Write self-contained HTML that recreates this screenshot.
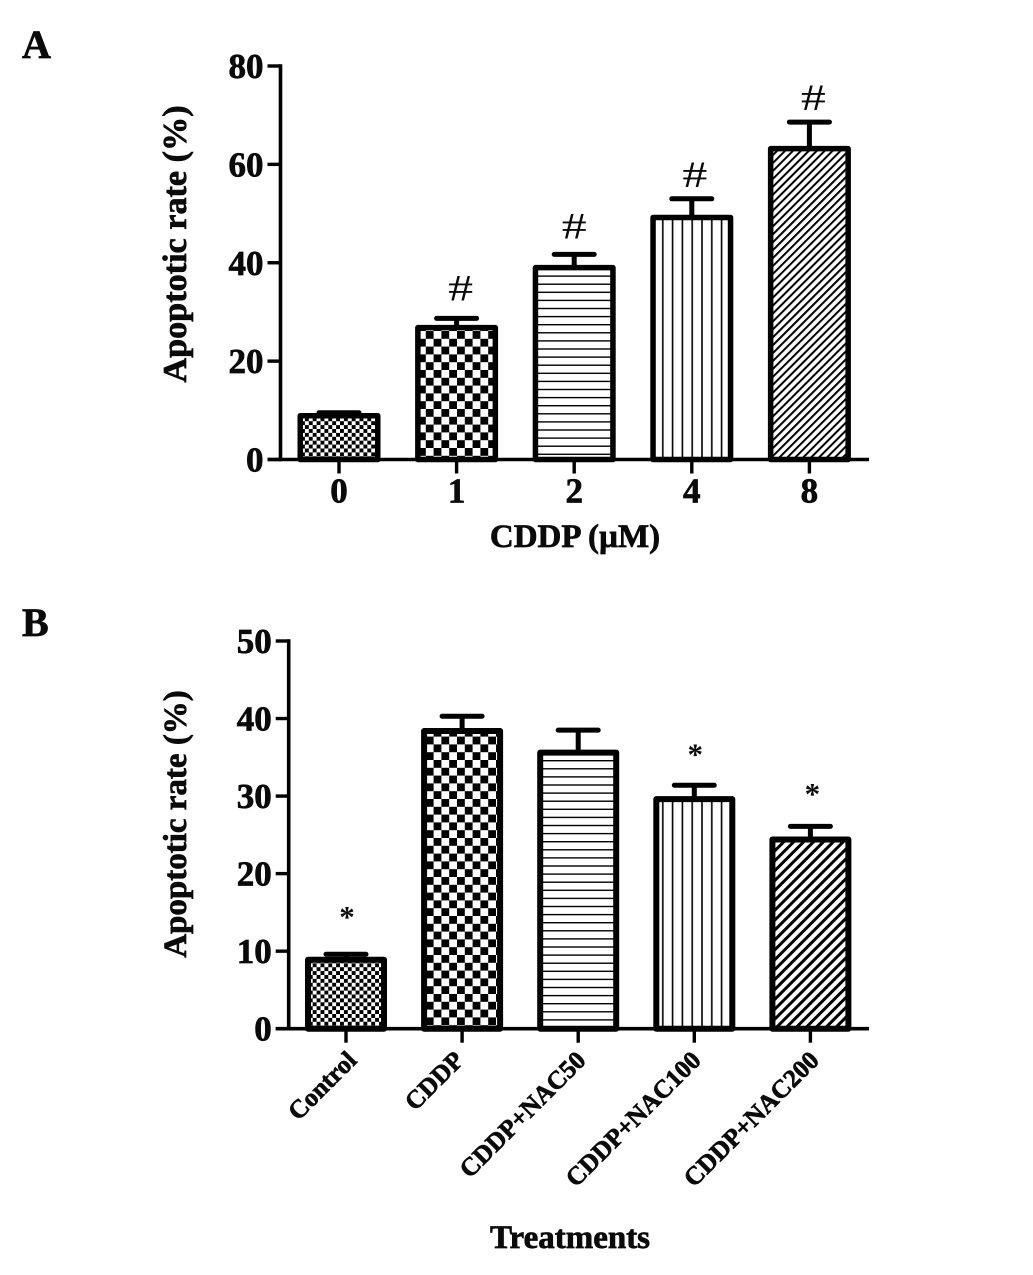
<!DOCTYPE html>
<html>
<head>
<meta charset="utf-8">
<title>Apoptotic rate charts</title>
<style>
html,body{margin:0;padding:0;background:#fff;}
svg{display:block;}
text{font-family:"Liberation Serif",serif;font-weight:bold;fill:#0a0a0a;stroke:#0a0a0a;stroke-width:0.7px;}
</style>
</head>
<body>
<svg id="fig" width="1033" height="1275" viewBox="0 0 1033 1275" xmlns="http://www.w3.org/2000/svg">
<defs>
<pattern id="p-fine" patternUnits="userSpaceOnUse" width="7.8" height="7.8" x="301" y="0">
<rect width="7.8" height="7.8" fill="#fff"/><rect width="3.9" height="3.9" fill="#000"/><rect x="3.9" y="3.9" width="3.9" height="3.9" fill="#000"/>
</pattern>
<pattern id="p-check" patternUnits="userSpaceOnUse" width="15.6" height="15.6" x="418" y="331">
<rect width="15.6" height="15.6" fill="#fff"/><rect x="7.8" width="7.8" height="7.8" fill="#000"/><rect y="7.8" width="7.8" height="7.8" fill="#000"/>
</pattern>
<pattern id="p-horiz-a" patternUnits="userSpaceOnUse" width="10" height="8.1" y="0">
<rect width="10" height="8.1" fill="#fff"/><rect width="10" height="1.4" fill="#000"/>
</pattern>
<pattern id="p-horiz-b" patternUnits="userSpaceOnUse" width="10" height="8.1" y="6.7">
<rect width="10" height="8.1" fill="#fff"/><rect width="10" height="1.4" fill="#000"/>
</pattern>
<pattern id="p-vert" patternUnits="userSpaceOnUse" width="9.8" height="10" x="654">
<rect width="9.8" height="10" fill="#fff"/><rect x="8" width="1.6" height="10" fill="#000"/>
</pattern>
<pattern id="p-diag-a" patternUnits="userSpaceOnUse" width="5.6" height="5.6" patternTransform="rotate(45)">
<rect width="5.6" height="5.6" fill="#fff"/><rect x="0" width="2" height="5.6" fill="#000"/>
</pattern>
<pattern id="p-diag-b" patternUnits="userSpaceOnUse" width="7" height="7" patternTransform="rotate(45)">
<rect width="7" height="7" fill="#fff"/><rect x="0" width="3" height="7" fill="#000"/>
</pattern>
</defs>
<g id="panel-a"></g>
<g id="panel-b"></g>
</svg>
<script>
var categoriesA = ['0', '1', '2', '4', '8'];
var valuesA = [8.9, 26.8, 39, 49.2, 63.2];
var errorsA = [0.6, 1.9, 2.7, 3.8, 5.4];
var marksA = ['', '#', '#', '#', '#'];
var ticksA = [0, 20, 40, 60, 80];

var categoriesB = ['Control', 'CDDP', 'CDDP+NAC50', 'CDDP+NAC100', 'CDDP+NAC200'];
var valuesB = [8.9, 38.4, 35.6, 29.6, 24.4];
var errorsB = [0.7, 1.9, 2.9, 1.8, 1.7];
var marksB = ['*', '', '', '*', '*'];
var ticksB = [0, 10, 20, 30, 40, 50];

var NS = 'http://www.w3.org/2000/svg';

function make(parent, tag, attrs) {
  var el = document.createElementNS(NS, tag);
  for (var k in attrs) { el.setAttribute(k, attrs[k]); }
  parent.appendChild(el);
  return el;
}

function drawPanel(parent, cfg) {
  var yScale = function (v) { return cfg.y0 - (v / cfg.yMax) * (cfg.y0 - cfg.yTop); };
  var xScale = function (i) { return cfg.x0 + i * cfg.step; };

  cfg.values.forEach(function (v, i) {
    var cx = xScale(i), top = yScale(v), errTop = yScale(v + cfg.errors[i]);
    var errLine = make(parent, 'line', {x1: cx, x2: cx, y1: top, y2: errTop, stroke: '#000', 'stroke-width': 5});
    
    
    var cap = make(parent, 'line', {x1: cx - 20, x2: cx + 20, y1: errTop, y2: errTop, stroke: '#000', 'stroke-width': 5, 'stroke-linecap': 'round'});
    
    
    var bar = make(parent, 'rect', {x: cx - cfg.barW / 2, y: top, width: cfg.barW, height: cfg.y0 - top, fill: 'url(#' + cfg.fills[i] + ')', stroke: '#000', 'stroke-width': cfg.barStroke, 'stroke-linejoin': 'round'});
    
    
    if (cfg.marks[i]) {
      var isHash = cfg.marks[i] === '#';
      var mx = cx + cfg.markDx[i], my = errTop + cfg.markDy[i];
      var mark = make(parent, 'text', {x: 0, y: 0, 'text-anchor': 'middle', 'font-size': isHash ? 37 : 31, transform: 'translate(' + mx + ' ' + my + ')' + (isHash ? ' scale(1.35 1)' : '')});
      
      
      if (isHash) { mark.style.fontWeight = 'normal'; }
      mark.style.strokeWidth = '0';
      mark.textContent = cfg.marks[i];
    }

    var xTick = make(parent, 'line', {x1: cx, x2: cx, y1: cfg.y0, y2: cfg.y0 + 14, stroke: '#000', 'stroke-width': 3.4});
    
    

    var lab;
    if (cfg.rotate) {
      var lx = cx + cfg.labelDx[i], ly = cfg.y0 + 33;
      lab = make(parent, 'text', {x: lx, y: ly, 'text-anchor': 'end', 'font-size': cfg.catSize, transform: 'rotate(-45 ' + lx + ' ' + ly + ')'});
    } else {
      lab = make(parent, 'text', {x: cx, y: cfg.y0 + 43, 'text-anchor': 'middle', 'font-size': cfg.catSize});
    }
    
    
    lab.textContent = cfg.categories[i];
  });

  cfg.ticks.forEach(function (t) {
    var y = yScale(t);
    var tick = make(parent, 'line', {x1: cfg.axisX - 13, x2: cfg.axisX, y1: y, y2: y, stroke: '#000', 'stroke-width': 3.4});
    
    
    var label = make(parent, 'text', {x: cfg.axisX - 17, y: y + 12, 'text-anchor': 'end', 'font-size': 35});
    
    
    label.textContent = t;
  });

  var yAxis = make(parent, 'line', {x1: cfg.axisX, x2: cfg.axisX, y1: cfg.yTop - 1.7, y2: cfg.y0 + 1.7, stroke: '#000', 'stroke-width': 3.6});
  
  
  var xAxis = make(parent, 'line', {x1: cfg.axisX - 13, x2: 869, y1: cfg.y0, y2: cfg.y0, stroke: '#000', 'stroke-width': 3.6});
  
  

  var yTitle = make(parent, 'text', {x: 0, y: 0, 'text-anchor': 'middle', 'font-size': cfg.yTitleSize, transform: 'translate(' + cfg.yTitleX + ' ' + cfg.yTitleY + ') rotate(-90)'});
  
  
  yTitle.textContent = 'Apoptotic rate (%)';

  var xTitle = make(parent, 'text', {x: cfg.xTitleX, y: cfg.xTitleY, 'text-anchor': 'middle', 'font-size': 33});
  
  
  xTitle.textContent = cfg.xTitle;

  var letter = make(parent, 'text', {x: cfg.letterX, y: cfg.letterY, 'font-size': 40});
  
  
  letter.textContent = cfg.letter;
}

drawPanel(document.getElementById('panel-a'), {
  categories: categoriesA, values: valuesA, errors: errorsA, marks: marksA, ticks: ticksA,
  fills: ['p-fine', 'p-check', 'p-horiz-a', 'p-vert', 'p-diag-a'],
  markDx: [0, 4, 0, 3, 4], markDy: [0, -18, -16, -12, -12], labelDx: [],
  yMax: 80, y0: 459.5, yTop: 66, axisX: 280.5, x0: 339, step: 117.6, barW: 77.5, barStroke: 5.5,
  rotate: false, catSize: 35, yTitleSize: 34.2, yTitleX: 186, yTitleY: 244,
  xTitle: 'CDDP (\u00b5M)', xTitleX: 575, xTitleY: 547,
  letter: 'A', letterX: 22, letterY: 58
});

drawPanel(document.getElementById('panel-b'), {
  categories: categoriesB, values: valuesB, errors: errorsB, marks: marksB, ticks: ticksB,
  fills: ['p-fine', 'p-check', 'p-horiz-b', 'p-vert', 'p-diag-b'],
  markDx: [1, 0, 0, 1, 2], markDy: [-27.5, 0, 0, -20.5, -22.5], labelDx: [12, 3, 9, 8, 10],
  yMax: 50, y0: 1028.7, yTop: 641, axisX: 288.7, x0: 346, step: 116.1, barW: 76, barStroke: 6,
  rotate: true, catSize: 25.5, yTitleSize: 33, yTitleX: 186, yTitleY: 824,
  xTitle: 'Treatments', xTitleX: 570, xTitleY: 1248,
  letter: 'B', letterX: 22, letterY: 636
});
</script>
</body>
</html>
